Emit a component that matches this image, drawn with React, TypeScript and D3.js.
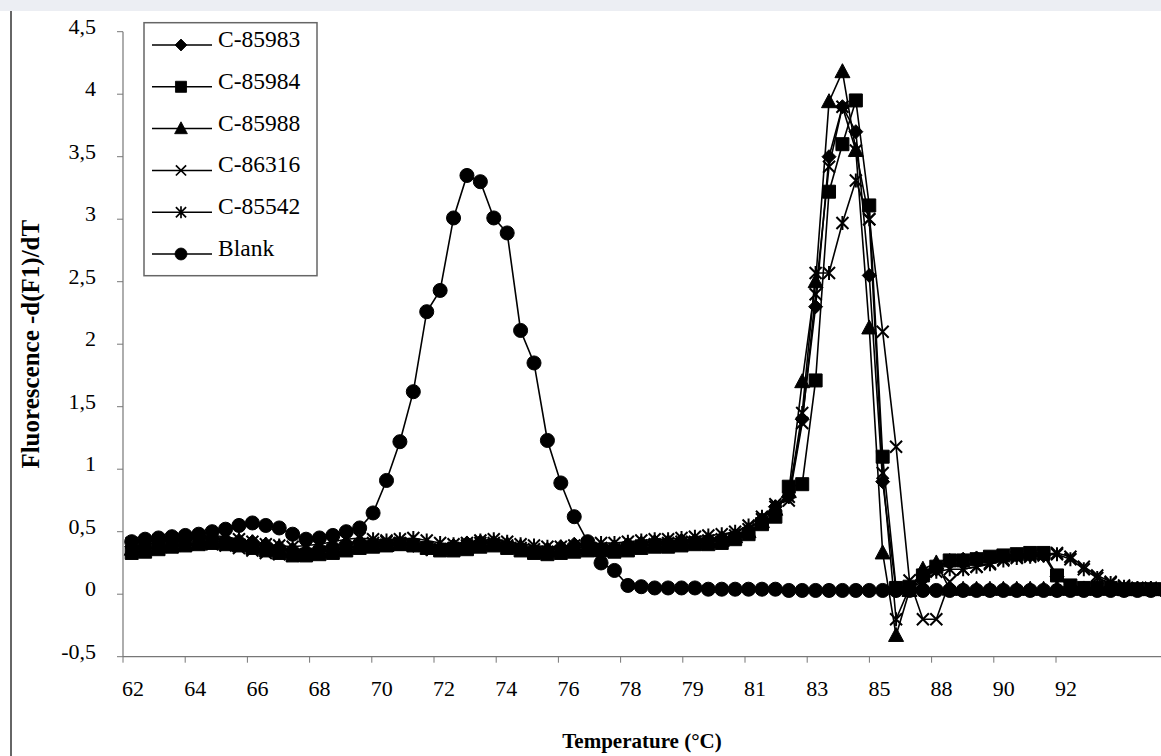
import React from "react";
import * as d3 from "d3";

// category labels shown under the axis (one label per tick)
const tickLabels = ["62", "64", "66", "68", "70", "72", "74", "76", "78", "79", "81", "83", "85", "88", "90", "92"];
const yTicks = [-0.5, 0, 0.5, 1, 1.5, 2, 2.5, 3, 3.5, 4, 4.5];

const c85983 = [
  0.38, 0.40, 0.42, 0.43, 0.44, 0.45, 0.45, 0.44, 0.43, 0.42,
  0.40, 0.38, 0.36, 0.35, 0.37, 0.39, 0.41, 0.42, 0.41, 0.40,
  0.41, 0.39, 0.36, 0.37, 0.39, 0.41, 0.42, 0.41, 0.39, 0.37,
  0.35, 0.36, 0.38, 0.40, 0.39, 0.37, 0.38, 0.40, 0.41, 0.42,
  0.42, 0.43, 0.43, 0.44, 0.45, 0.47, 0.52, 0.60, 0.70, 0.78,
  1.40, 2.30, 3.50, 3.90, 3.70, 2.55, 0.90, 0.03, 0.05, 0.12,
  0.20, 0.27, 0.28, 0.29, 0.29, 0.30, 0.31, 0.31, 0.31, 0.14,
  0.06, 0.05, 0.05, 0.04, 0.04, 0.04, 0.04, 0.04,
];

const c85984 = [
  0.33, 0.34, 0.36, 0.38, 0.39, 0.40, 0.41, 0.40, 0.39, 0.37,
  0.35, 0.33, 0.31, 0.31, 0.32, 0.33, 0.35, 0.37, 0.38, 0.39,
  0.40, 0.39, 0.37, 0.35, 0.35, 0.36, 0.38, 0.39, 0.37, 0.35,
  0.33, 0.32, 0.33, 0.34, 0.35, 0.35, 0.34, 0.35, 0.37, 0.38,
  0.38, 0.39, 0.40, 0.40, 0.41, 0.44, 0.48, 0.56, 0.62, 0.86,
  0.88, 1.71, 3.22, 3.60, 3.95, 3.11, 1.10, 0.05, 0.06, 0.15,
  0.22, 0.27, 0.27, 0.28, 0.30, 0.31, 0.32, 0.33, 0.33, 0.15,
  0.07, 0.05, 0.05, 0.05, 0.04, 0.04, 0.04, 0.04,
];

const c85988 = [
  0.36, 0.37, 0.38, 0.39, 0.40, 0.41, 0.42, 0.42, 0.41, 0.40,
  0.38, 0.36, 0.34, 0.33, 0.34, 0.36, 0.37, 0.38, 0.39, 0.39,
  0.40, 0.41, 0.39, 0.37, 0.37, 0.38, 0.40, 0.41, 0.40, 0.38,
  0.36, 0.35, 0.36, 0.37, 0.38, 0.37, 0.37, 0.38, 0.39, 0.40,
  0.40, 0.41, 0.42, 0.42, 0.43, 0.46, 0.50, 0.58, 0.68, 0.82,
  1.70, 2.50, 3.94, 4.18, 3.55, 2.13, 0.33, -0.33, 0.03, 0.20,
  0.25, 0.04, 0.04, 0.04, 0.04, 0.04, 0.04, 0.04, 0.04, 0.04,
  0.04, 0.04, 0.04, 0.04, 0.04, 0.04, 0.04, 0.04,
];

const c86316 = [
  0.35, 0.36, 0.37, 0.38, 0.39, 0.40, 0.40, 0.39, 0.37, 0.35,
  0.33, 0.32, 0.31, 0.32, 0.34, 0.35, 0.37, 0.39, 0.41, 0.42,
  0.41, 0.39, 0.37, 0.36, 0.37, 0.39, 0.41, 0.41, 0.39, 0.37,
  0.36, 0.34, 0.34, 0.35, 0.36, 0.37, 0.36, 0.37, 0.39, 0.40,
  0.41, 0.42, 0.42, 0.43, 0.44, 0.47, 0.52, 0.60, 0.72, 0.75,
  1.37, 2.40, 3.42, 3.90, 3.55, 3.00, 2.10, 1.18, 0.11, -0.20,
  -0.20, 0.10, 0.20, 0.22, 0.25, 0.28, 0.30, 0.31, 0.32, 0.33,
  0.30, 0.22, 0.15, 0.10, 0.07, 0.05, 0.05, 0.04,
];

const c85542 = [
  0.41, 0.42, 0.43, 0.44, 0.45, 0.46, 0.47, 0.46, 0.44, 0.42,
  0.40, 0.39, 0.38, 0.39, 0.40, 0.42, 0.44, 0.45, 0.44, 0.43,
  0.44, 0.45, 0.43, 0.41, 0.40, 0.41, 0.43, 0.44, 0.42, 0.40,
  0.39, 0.38, 0.38, 0.39, 0.40, 0.41, 0.41, 0.42, 0.43, 0.44,
  0.44, 0.45, 0.46, 0.47, 0.48, 0.50, 0.55, 0.62, 0.70, 0.78,
  1.45, 2.57, 2.57, 2.97, 3.31, 3.00, 0.97, -0.20, 0.05, 0.10,
  0.18, 0.20, 0.20, 0.22, 0.24, 0.27, 0.29, 0.30, 0.31, 0.32,
  0.28, 0.20, 0.13, 0.09, 0.06, 0.05, 0.05, 0.04,
];

const blank = [
  0.42, 0.44, 0.45, 0.46, 0.47, 0.48, 0.50, 0.52, 0.55, 0.57,
  0.55, 0.53, 0.48, 0.44, 0.45, 0.47, 0.50, 0.53, 0.65, 0.91,
  1.22, 1.62, 2.26, 2.43, 3.01, 3.35, 3.30, 3.01, 2.89, 2.11,
  1.85, 1.23, 0.89, 0.62, 0.42, 0.25, 0.19, 0.07, 0.06, 0.05,
  0.05, 0.05, 0.05, 0.04, 0.04, 0.04, 0.04, 0.04, 0.04, 0.03,
  0.03, 0.03, 0.03, 0.03, 0.03, 0.03, 0.03, 0.03, 0.03, 0.03,
  0.03, 0.03, 0.03, 0.03, 0.03, 0.03, 0.03, 0.03, 0.03, 0.03,
  0.03, 0.03, 0.03, 0.03, 0.03, 0.03, 0.03, 0.03,
];

const series = [
  { name: "C-85983", marker: "diamond", values: c85983 },
  { name: "C-85984", marker: "square", values: c85984 },
  { name: "C-85988", marker: "triangle", values: c85988 },
  { name: "C-86316", marker: "cross", values: c86316 },
  { name: "C-85542", marker: "star", values: c85542 },
  { name: "Blank", marker: "circle", values: blank },
];

const W = 1161;
const H = 756;
const left = 123;
const top = 31.7;
const bottom = 656.7;
const catWidth = 13.41;
const tickStep = 62.2;
const font = "'Liberation Serif', 'Times New Roman', serif";

function markerPath(kind: string): string {
  switch (kind) {
    case "diamond":
      return "M0,-7L7,0L0,7L-7,0Z";
    case "square":
      return "M-6.5,-6.5h13v13h-13Z";
    case "triangle":
      return "M0,-8L7.5,6L-7.5,6Z";
    case "cross":
      return "M-6,-6L6,6M-6,6L6,-6";
    case "star":
      return "M-6,-6L6,6M-6,6L6,-6M0,-7L0,7";
    default:
      return d3.symbol(d3.symbolCircle, 155)() || "";
  }
}

function Marker({ kind, cx, cy, scale = 1 }: { kind: string; cx: number; cy: number; scale?: number }) {
  const open = kind === "cross" || kind === "star";
  return (
    <path
      d={markerPath(kind)}
      transform={`translate(${cx},${cy}) scale(${scale})`}
      fill={open ? "none" : "#000"}
      stroke="#000"
      strokeWidth={open ? 2 : 1}
    />
  );
}

export default function App() {
  const n = blank.length;
  const x = d3
    .scaleBand<number>()
    .domain(d3.range(n))
    .range([left + 2, left + 2 + n * catWidth]);
  const y = d3.scaleLinear().domain([-0.5, 4.5]).range([bottom, top]);
  const tickX = d3
    .scaleLinear()
    .domain([0, tickLabels.length])
    .range([left, left + tickLabels.length * tickStep]);
  const cx = (i: number) => (x(i) as number) + x.bandwidth() / 2;

  const line = d3
    .line<number>()
    .x((d, i) => cx(i))
    .y((d) => y(d));

  return (
    <svg
      width={W}
      height={H}
      style={{ position: "absolute", left: 0, top: 0, background: "#fff" }}
      fontFamily={font}
    >
      <defs>
        <clipPath id="plot-clip">
          <rect x={left - 10} y={0} width={W - left + 10} height={H} />
        </clipPath>
      </defs>
      <rect x={0} y={0} width={W} height={11} fill="#eceef3" />
      <line x1={11} x2={11} y1={11} y2={H} stroke="#666" strokeWidth={2} />

      {/* y axis */}
      <line x1={left} x2={left} y1={top} y2={bottom} stroke="#777" strokeWidth={1.2} />
      {yTicks.map((t) => (
        <g key={t}>
          <line x1={left - 6} x2={left} y1={y(t)} y2={y(t)} stroke="#777" />
          <text x={96} y={y(t) + 2} textAnchor="end" fontSize={22}>
            {String(t).replace(".", ",")}
          </text>
        </g>
      ))}

      {/* x axis */}
      <line x1={left} x2={W} y1={bottom} y2={bottom} stroke="#777" strokeWidth={1.2} />
      {tickLabels.map((lab, j) => (
        <g key={lab}>
          <line x1={tickX(j)} x2={tickX(j)} y1={bottom} y2={bottom + 6} stroke="#777" />
          <text x={tickX(j) + 10} y={696} textAnchor="middle" fontSize={22}>
            {lab}
          </text>
        </g>
      ))}

      <text x={642} y={748} textAnchor="middle" fontSize={21} fontWeight="bold">
        Temperature (°C)
      </text>
      <text
        transform={`translate(30,${(top + bottom) / 2}) rotate(-90)`}
        textAnchor="middle"
        dominantBaseline="central"
        fontSize={25}
        fontWeight="bold"
      >
        Fluorescence -d(F1)/dT
      </text>

      {/* series */}
      <g clipPath="url(#plot-clip)">
        {series.map((s) => (
          <g key={s.name}>
            <path d={line(s.values) || ""} fill="none" stroke="#000" strokeWidth={1.6} />
            {s.values.map((v, i) => (
              <Marker key={i} kind={s.marker} cx={cx(i)} cy={y(v)} />
            ))}
          </g>
        ))}
      </g>

      {/* legend */}
      <rect x={144} y={22.7} width={173} height={253} fill="#fff" stroke="#666" strokeWidth={1.5} />
      {series.map((s, k) => {
        const ly = 45 + k * 41.8;
        return (
          <g key={s.name}>
            <line x1={152} x2={212} y1={ly} y2={ly} stroke="#000" strokeWidth={1.5} />
            <Marker kind={s.marker} cx={181} cy={ly} scale={0.85} />
            <text x={218} y={ly + 2} fontSize={23.5}>
              {s.name}
            </text>
          </g>
        );
      })}
    </svg>
  );
}
